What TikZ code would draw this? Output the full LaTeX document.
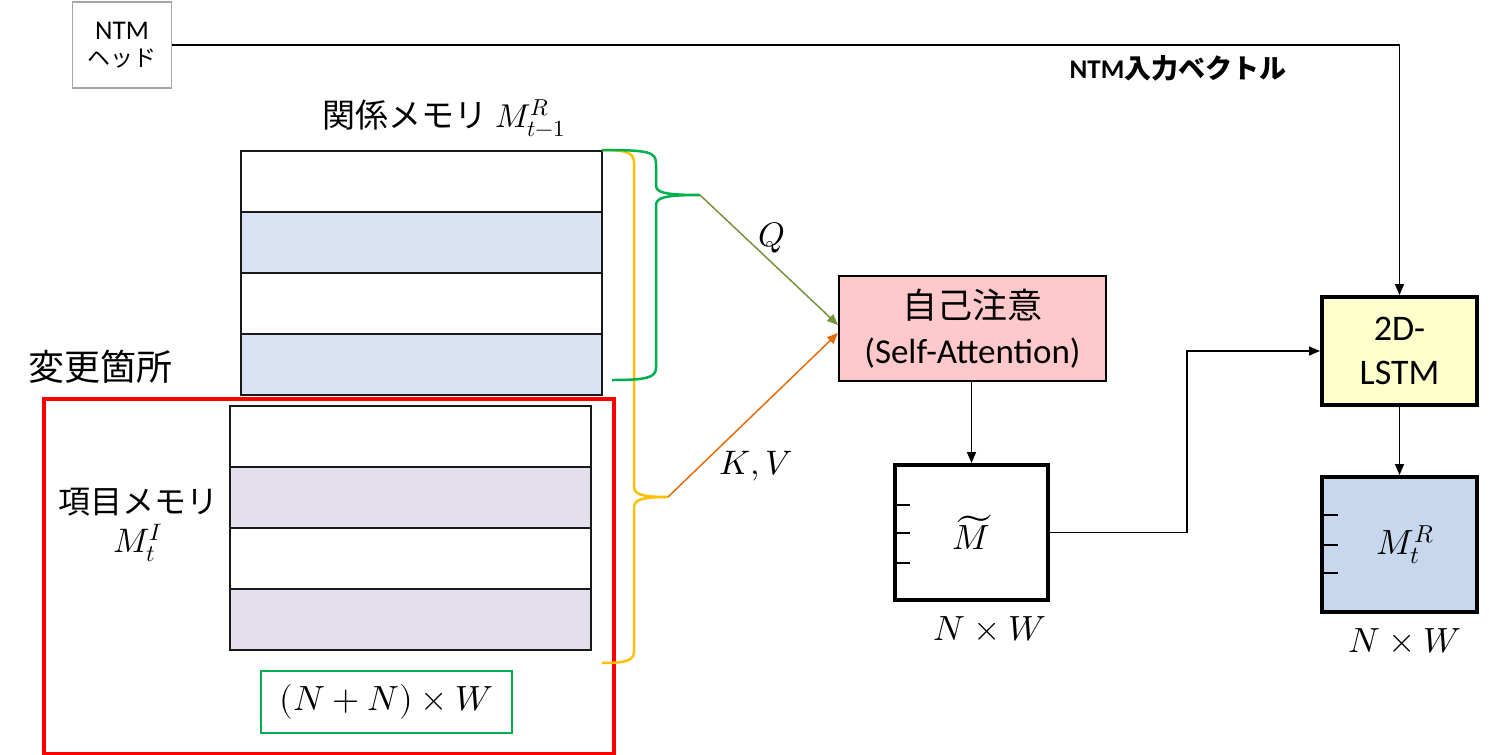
\documentclass[tikz,border=0pt]{standalone}
\usepackage{fontspec}
\usepackage{unicode-math}
\setmainfont{Carlito}
\newfontfamily\jp{Noto Sans CJK JP}
\usetikzlibrary{arrows.meta}
\definecolor{rowblue}{HTML}{DAE3F3}
\definecolor{rowlav}{HTML}{E4DFEC}
\definecolor{braceY}{HTML}{FFC000}
\definecolor{braceG}{HTML}{00B050}
\definecolor{qcol}{HTML}{77933C}
\definecolor{kvcol}{HTML}{E46C0A}
\definecolor{sapink}{HTML}{FFC9CB}
\definecolor{lsyellow}{HTML}{FFFFCC}
\definecolor{mrblue}{HTML}{C6D7EE}
\definecolor{headgray}{HTML}{A6A6A6}
\newcommand\fsz[1]{\fontsize{#1pt}{#1pt}\selectfont}
\begin{document}
\begin{tikzpicture}[x=1pt,y=-1pt,
  arr/.style={-{Triangle[length=11pt,width=9pt]}, line width=1.5pt},
  memrow/.style={draw=black!90, line width=2pt, minimum width=361pt, minimum height=61pt, anchor=north west, inner sep=0pt},
  bigbox/.style={draw=black, line width=4pt, inner sep=0pt},
  tick/.style={line width=1.5pt},
  brace/.style={line width=2.5pt},
  lbl/.style={inner sep=0pt}]
\useasboundingbox (0,0) rectangle (1489,755);
\fill[white] (0,0) rectangle (1489,755);

% NTM head
\node[draw=headgray, line width=1.8pt, minimum width=99pt, minimum height=86pt, inner sep=0pt, align=center] (ntm) at (122,45) {\fsz{27}NTM\\[8pt]{\fsz{23}\jp ヘッド}};

% relation memory label
\node[lbl, font=\fsz{33}] (rlabel) at (444,118) {{\jp 関係メモリ} $M^{R}_{t-1}$};

% relation memory rows
\node[memrow, fill=white] (r1) at (240,150) {};
\node[memrow, fill=rowblue] (r2) at (240,211) {};
\node[memrow, fill=white] (r3) at (240,272) {};
\node[memrow, fill=rowblue] (r4) at (240,333) {};

% change area
\node[lbl, font=\fsz{36}] (chglabel) at (100,367) {\jp 変更箇所};
\node[draw=red, line width=3.5pt, minimum width=570pt, minimum height=355pt, anchor=north west, inner sep=0pt] (chg) at (42,397) {};

% item memory rows
\node[memrow, fill=white] (i1) at (229,405) {};
\node[memrow, fill=rowlav] (i2) at (229,466) {};
\node[memrow, fill=white] (i3) at (229,527) {};
\node[memrow, fill=rowlav] (i4) at (229,588) {};

\node[lbl, font=\fsz{32}] (ilabel) at (138,502) {\jp 項目メモリ};
\node[lbl, font=\fsz{34}] (ilabelM) at (138,543) {$M^{I}_{t}$};

% size box
\node[draw=braceG, line width=1.8pt, minimum width=251pt, minimum height=62pt, inner sep=0pt, font=\fsz{35}] (size) at (386.5,702) {$(N+N)\times W$};

% braces
\coordinate (ytip) at (668,497);
\coordinate (gtip) at (700,195);
\draw[brace, braceY] (602,150) .. controls (628,150) and (634,153) .. (634,163) -- (634,486)
  .. controls (634,494) and (640,497) .. (ytip)
  .. controls (640,497) and (634,500) .. (634,508) -- (634,651)
  .. controls (634,660) and (628,663) .. (602,663);
\draw[brace, braceG] (602,150) .. controls (650,150) and (656,152) .. (656,164) -- (656,185)
  .. controls (656,192) and (662,195) .. (gtip)
  .. controls (662,195) and (656,198) .. (656,206) -- (656,368)
  .. controls (656,378) and (645,380) .. (612,380);

% self attention
\node[draw=black, line width=2pt, fill=sapink, minimum width=267pt, minimum height=105pt, inner sep=0pt, align=center, font=\fsz{35}] (sa) at (972.5,328.5) {{\jp 自己注意}\\[10pt](Self-Attention)};

\draw[arr, qcol] (gtip) -- (sa.west |- 0,325);
\draw[arr, kvcol] (ytip) -- (sa.west |- 0,333);
\node[lbl, font=\fsz{34}] (qlbl) at (772,238) {$Q$};
\node[lbl, font=\fsz{34}] (kvlbl) at (756,466) {$K,V$};

% M tilde
\node[bigbox, fill=white, minimum width=153pt, minimum height=135pt, font=\fsz{35}] (mt) at (971.5,532.5) {$\widetilde{M}$};
\draw[tick] (mt.west |- 0,505) -- ++(17,0);
\draw[tick] (mt.west |- 0,533) -- ++(17,0);
\draw[tick] (mt.west |- 0,563) -- ++(17,0);
\node[lbl, font=\fsz{35}] (mtsize) at (990,629) {$N\times W$};
\draw[arr] (sa.south -| mt.north) -- (mt.north);

% 2D-LSTM
\node[bigbox, fill=lsyellow, minimum width=155pt, minimum height=108pt, align=center, font=\fsz{36}] (ls) at (1399.5,351) {2D-\\[8pt]LSTM};

% M^R_t
\node[bigbox, fill=mrblue, minimum width=155pt, minimum height=135pt, font=\fsz{35}] (mr) at (1399.5,544.5) {\hspace*{12pt}$M^{R}_{t}$};
\draw[tick] (mr.west |- 0,515) -- ++(18,0);
\draw[tick] (mr.west |- 0,545) -- ++(18,0);
\draw[tick] (mr.west |- 0,573) -- ++(18,0);
\node[lbl, font=\fsz{35}] (mrsize) at (1405,641) {$N\times W$};

% connectors
\draw[arr] (ntm.east) -| (ls.north);
\node[lbl, font=\fsz{27}\bfseries] (ntmin) at (1178,68) {NTM{\jp 入力ベクトル}};
\draw[arr] (mt.east) -- (1187,0 |- mt.east) |- (ls.west);
\draw[arr] (ls.south) -- (mr.north);
\end{tikzpicture}
\end{document}
